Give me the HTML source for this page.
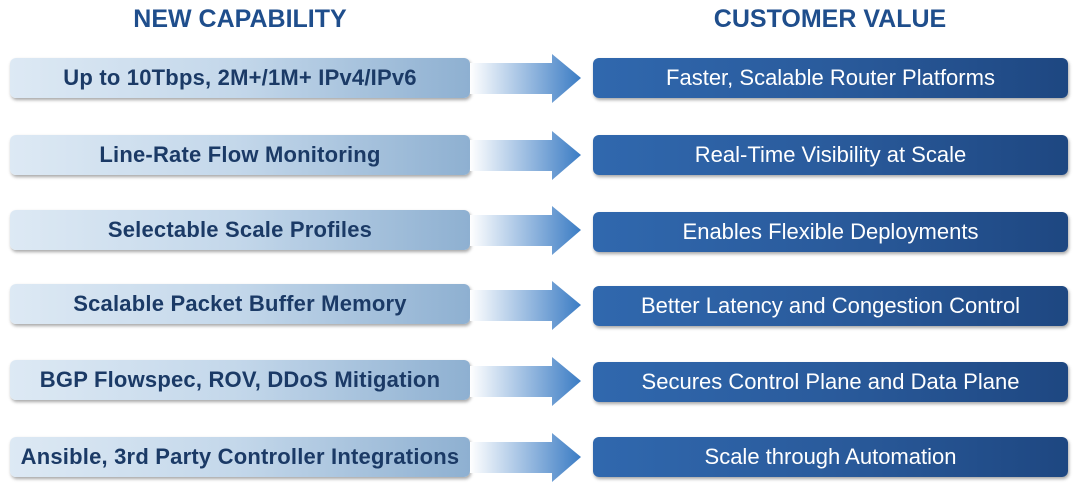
<!DOCTYPE html>
<html><head><meta charset="utf-8"><style>
body{margin:0;width:1080px;height:492px;background:#fff;font-family:"Liberation Sans",sans-serif;position:relative;overflow:hidden}
.h{position:absolute;top:5px;font-weight:bold;font-size:25px;color:#1f4e8c;text-align:center}
.l{position:absolute;left:10px;width:460px;height:40px;border-radius:6px;background:linear-gradient(90deg,#dde9f4 0%,#c3d7ea 50%,#8eb0d1 100%);box-shadow:1px 2px 3px rgba(0,0,0,.35);color:#1b3a66;font-weight:bold;font-size:22px;letter-spacing:0.2px;line-height:40px;text-align:center;white-space:nowrap}
.r{position:absolute;left:593px;width:475px;height:40px;border-radius:6px;background:linear-gradient(90deg,#3068ae 0%,#2a5b9c 50%,#1e4781 100%);box-shadow:1px 2px 3px rgba(0,0,0,.35);color:#fff;font-size:22px;line-height:40px;text-align:center;white-space:nowrap}
svg{position:absolute;left:470px}
</style></head><body>
<div class="h" style="left:40px;width:400px">NEW CAPABILITY</div>
<div class="h" style="left:630px;width:400px">CUSTOMER VALUE</div>
<svg width="0" height="0"><defs><linearGradient id="g" x1="0" x2="1"><stop offset="0" stop-color="#fff"/><stop offset="1" stop-color="#3b7cc4"/></linearGradient></defs></svg>

<div class="l" style="top:58px">Up to 10Tbps, 2M+/1M+ IPv4/IPv6</div>
<svg style="top:54px" width="112" height="50"><polygon points="0,9 82,9 82,0 111,24 82,49 82,40 0,40" fill="url(#g)"/></svg>
<div class="r" style="top:58px">Faster, Scalable Router Platforms</div>

<div class="l" style="top:135px">Line-Rate Flow Monitoring</div>
<svg style="top:131px" width="112" height="50"><polygon points="0,9 82,9 82,0 111,24 82,49 82,40 0,40" fill="url(#g)"/></svg>
<div class="r" style="top:135px">Real-Time Visibility at Scale</div>

<div class="l" style="top:210px">Selectable Scale Profiles</div>
<svg style="top:206px" width="112" height="50"><polygon points="0,9 82,9 82,0 111,24 82,49 82,40 0,40" fill="url(#g)"/></svg>
<div class="r" style="top:212px">Enables Flexible Deployments</div>

<div class="l" style="top:284px">Scalable Packet Buffer Memory</div>
<svg style="top:281px" width="112" height="50"><polygon points="0,9 82,9 82,0 111,24 82,49 82,40 0,40" fill="url(#g)"/></svg>
<div class="r" style="top:286px">Better Latency and Congestion Control</div>

<div class="l" style="top:360px">BGP Flowspec, ROV, DDoS Mitigation</div>
<svg style="top:357px" width="112" height="50"><polygon points="0,9 82,9 82,0 111,24 82,49 82,40 0,40" fill="url(#g)"/></svg>
<div class="r" style="top:362px">Secures Control Plane and Data Plane</div>

<div class="l" style="top:437px">Ansible, 3rd Party Controller Integrations</div>
<svg style="top:433px" width="112" height="50"><polygon points="0,9 82,9 82,0 111,24 82,49 82,40 0,40" fill="url(#g)"/></svg>
<div class="r" style="top:437px">Scale through Automation</div>
</body></html>
